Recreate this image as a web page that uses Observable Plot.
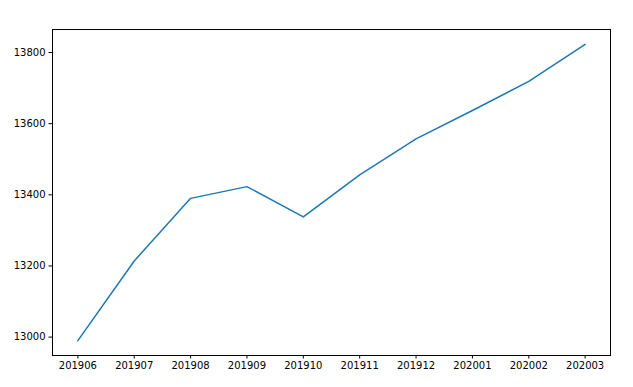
<!DOCTYPE html>
<html>
<head>
<meta charset="utf-8">
<script src="https://cdn.jsdelivr.net/npm/d3@7"></script>
<script src="https://cdn.jsdelivr.net/npm/@observablehq/plot@0.6"></script>
<style>
  html, body { margin: 0; padding: 0; background: #fff; }
</style>
</head>
<body>
<div id="chart"></div>
<script>
const months = ["201906","201907","201908","201909","201910","201911","201912","202001","202002","202003"];
const values = [12990, 13214, 13390, 13423, 13338, 13456, 13557, 13637, 13719, 13823];
const yTicks = [13000, 13200, 13400, 13600, 13800];

const data = months.map((m, i) => ({i, month: m, value: values[i]}));
const n = months.length;
const vmin = d3.min(values), vmax = d3.max(values);
const pad = (vmax - vmin) * 0.05;

const chart = Plot.plot({
  width: 633,
  height: 387,
  marginLeft: 52,
  marginRight: 23,
  marginTop: 29,
  marginBottom: 32,
  style: {fontFamily: "DejaVu Sans", fontSize: "10px", color: "#000", background: "#fff"},
  x: {type: "linear", domain: [-0.05 * (n - 1), (n - 1) * 1.05]},
  y: {domain: [vmin - pad, vmax + pad]},
  marks: [
    Plot.axisX({ticks: d3.range(n), tickFormat: i => months[i], tickSize: 3.5, tickPadding: 3, fontSize: 10, label: null}),
    Plot.axisY({ticks: yTicks, tickFormat: d => String(d), tickSize: 3.5, tickPadding: 3.5, fontSize: 10, label: null}),
    Plot.line(data, {x: "i", y: "value", stroke: "#1f77b4", strokeWidth: 1.5}),
    Plot.frame({stroke: "#000", strokeWidth: 1})
  ]
});
document.getElementById("chart").appendChild(chart);
</script>
</body>
</html>
